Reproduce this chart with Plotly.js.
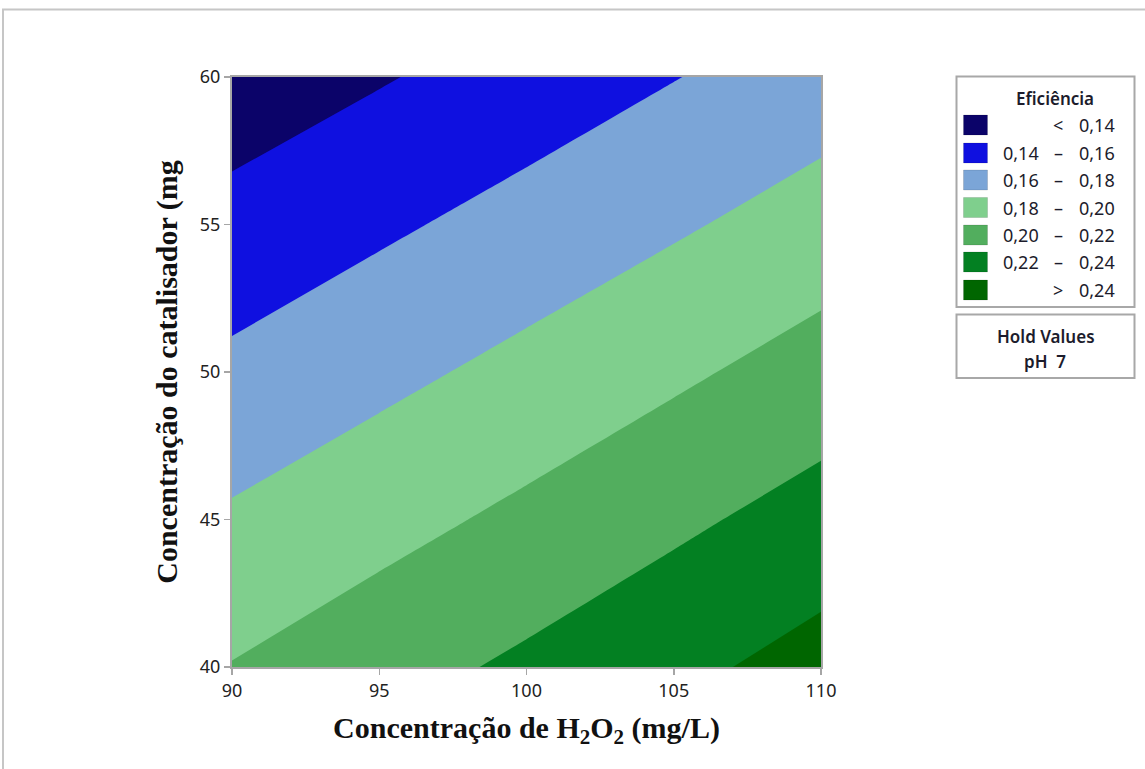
<!DOCTYPE html>
<html>
<head>
<meta charset="utf-8">
<script src="https://cdn.plot.ly/plotly-3.0.1.min.js"></script>
<style>
  html, body { margin: 0; padding: 0; background: #fff; }
  #chart { width: 1145px; height: 769px; }
</style>
</head>
<body>
<div id="chart"></div>
<script>
// ---- data ----
const h2o2 = [90, 95, 100, 105, 110];               // x: Concentração de H2O2 (mg/L)
const catalisador = [40, 45, 50, 55, 60];           // y: Concentração do catalisador (mg)
const eficiencia = [                                // z rows follow catalisador
  [0.2008, 0.2123, 0.2236, 0.2351, 0.2473],
  [0.1827, 0.1933, 0.2044, 0.2161, 0.2278],
  [0.1644, 0.1749, 0.1855, 0.1966, 0.2082],
  [0.1464, 0.1567, 0.1671, 0.1775, 0.1885],
  [0.1286, 0.1385, 0.1488, 0.1594, 0.1697]
];
const levelStart = 0.14, levelEnd = 0.24, levelStep = 0.02;
const bandColors = ['#0b0369', '#0f10e0', '#7ba5d7', '#7fcf8d', '#52ae5e', '#038022', '#006600'];
const bandLow  = ['', '0,14', '0,16', '0,18', '0,20', '0,22', ''];
const bandSep  = ['<', '–', '–', '–', '–', '–', '>'];
const bandHigh = ['0,14', '0,16', '0,18', '0,20', '0,22', '0,24', '0,24'];
const xTicks = [90, 95, 100, 105, 110];
const yTicks = [40, 45, 50, 55, 60];
const legendTitle = 'Eficiência';
const holdTitle = 'Hold Values';
const holdText = 'pH  7';

// ---- layout geometry (pixels) ----
const W = 1145, H = 769;
const PL = 232, PR = 821, PT = 77, PB = 667;
const px = v => (v - PL) / (PR - PL);
const py = v => (PB - v) / (PB - PT);

const colorscale = bandColors.map((c, i) => [i / (bandColors.length - 1), c]);

const trace = {
  type: 'contour',
  x: h2o2, y: catalisador, z: eficiencia,
  colorscale: colorscale,
  showscale: false,
  contours: { start: levelStart, end: levelEnd, size: levelStep, coloring: 'fill', showlines: false },
  line: { width: 0, smoothing: 0 },
  hoverinfo: 'skip'
};

const legFont = { family: 'Noto Sans, Open Sans, sans-serif', size: 18, color: '#1c1c2c' };
const shapes = [
  // outer frame
  { type: 'rect', xref: 'paper', yref: 'paper', x0: px(3), x1: px(1160), y0: py(9.5), y1: py(790),
    line: { color: '#c6c6c6', width: 2 }, fillcolor: 'rgba(0,0,0,0)', layer: 'below' },
  // legend box
  { type: 'rect', xref: 'paper', yref: 'paper', x0: px(956.5), x1: px(1134.5), y0: py(76.5), y1: py(307),
    line: { color: '#a8a8a8', width: 2 }, fillcolor: '#fff' },
  // hold values box
  { type: 'rect', xref: 'paper', yref: 'paper', x0: px(956.5), x1: px(1134.5), y0: py(314.5), y1: py(378),
    line: { color: '#a8a8a8', width: 2 }, fillcolor: '#fff' }
];
const annotations = [
  { text: legendTitle, xref: 'paper', yref: 'paper', x: px(1055), y: py(99), showarrow: false,
    xanchor: 'center', yanchor: 'middle', font: Object.assign({}, legFont, { size: 17, weight: 600 }) },
  { text: holdTitle, xref: 'paper', yref: 'paper', x: px(1046), y: py(336), showarrow: false,
    xanchor: 'center', yanchor: 'middle', font: Object.assign({}, legFont, { size: 17, weight: 600 }) },
  { text: holdText, xref: 'paper', yref: 'paper', x: px(1045), y: py(361), showarrow: false,
    xanchor: 'center', yanchor: 'middle', font: Object.assign({}, legFont, { size: 17, weight: 600 }) }
];
const rowY = [125, 153, 180, 207.5, 235, 262, 290];
bandColors.forEach((c, i) => {
  shapes.push({ type: 'rect', xref: 'paper', yref: 'paper', x0: px(963.5), x1: px(987.5),
    y0: py(rowY[i] - 10), y1: py(rowY[i] + 10), line: { color: 'rgba(0,0,0,0.12)', width: 1 }, fillcolor: c });
  if (bandLow[i]) annotations.push({ text: bandLow[i], xref: 'paper', yref: 'paper', x: px(1041), y: py(rowY[i]),
    showarrow: false, xanchor: 'right', yanchor: 'middle', font: legFont });
  annotations.push({ text: bandSep[i], xref: 'paper', yref: 'paper', x: px(1058), y: py(rowY[i]),
    showarrow: false, xanchor: 'center', yanchor: 'middle', font: legFont });
  annotations.push({ text: bandHigh[i], xref: 'paper', yref: 'paper', x: px(1117), y: py(rowY[i]),
    showarrow: false, xanchor: 'right', yanchor: 'middle', font: legFont });
});

const axisCommon = {
  showgrid: false, zeroline: false, showline: true, mirror: true,
  linecolor: '#a6a6a6', linewidth: 2, ticks: 'outside', ticklen: 6, tickwidth: 1.5, tickcolor: '#a6a6a6',
  tickfont: { family: 'Noto Sans, Open Sans, sans-serif', size: 18, color: '#222' }
};
const titleFont = { family: 'Liberation Serif, Times New Roman, serif', size: 30, color: '#111', weight: 'bold' };

const layout = {
  width: W, height: H,
  margin: { l: PL, r: W - PR, t: PT, b: H - PB },
  paper_bgcolor: '#fff', plot_bgcolor: '#fff',
  showlegend: false,
  xaxis: Object.assign({}, axisCommon, {
    range: [90, 110], tickvals: xTicks, ticktext: xTicks.map(String),
    title: { text: 'Concentração de H<sub>2</sub>O<sub>2</sub> (mg/L)', font: titleFont, standoff: 16 }
  }),
  yaxis: Object.assign({}, axisCommon, {
    range: [40, 60], tickvals: yTicks, ticktext: yTicks.map(String),
    title: { text: 'Concentração do catalisador (mg', font: titleFont, standoff: 13 }
  }),
  shapes: shapes,
  annotations: annotations
};

Plotly.newPlot('chart', [trace], layout, { displayModeBar: false, staticPlot: true });
</script>
</body>
</html>
